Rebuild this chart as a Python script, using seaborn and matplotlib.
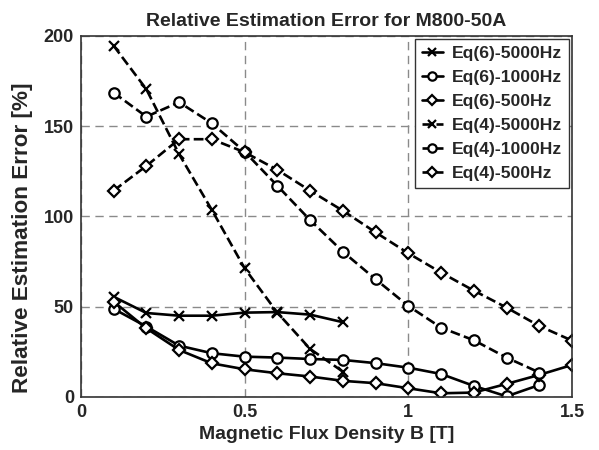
import numpy as np
import pandas as pd
import matplotlib
matplotlib.use('Agg')
import matplotlib.pyplot as plt
import seaborn as sns

# values
b_short = [0.1, 0.2, 0.3, 0.4, 0.5, 0.6, 0.7, 0.8]
b_1000 = [0.1, 0.2, 0.3, 0.4, 0.5, 0.6, 0.7, 0.8, 0.9, 1.0, 1.1, 1.2, 1.3, 1.4]
b_500 = [0.1, 0.2, 0.3, 0.4, 0.5, 0.6, 0.7, 0.8, 0.9, 1.0, 1.1, 1.2, 1.3, 1.4, 1.5]

eq6_5000 = [55.5, 46.5, 45, 45, 46.7, 47, 45.6, 41.4]
eq6_1000 = [48.8, 39, 28.4, 24.2, 22.3, 21.8, 21.0, 20.5, 18.7, 16.2, 12.7, 6.1, 0.3, 6.6]
eq6_500 = [52.8, 38, 26, 18.6, 15.3, 13.1, 11.3, 8.9, 7.6, 4.8, 2.0, 2.4, 7.2, 12.2, 17.7]
eq4_5000 = [194.6, 170.5, 134.5, 103.6, 71.3, 46.7, 26.6, 14]
eq4_1000 = [168.6, 155.3, 163.3, 151.6, 135.9, 117, 98, 80.5, 65.2, 50.4, 38.4, 31.4, 21.8, 13.5]
eq4_500 = [114.3, 128, 142.8, 142.8, 135.6, 125.8, 114.3, 103.2, 91.2, 79.6, 68.9, 58.9, 49.5, 39.3, 31.2]

series = [
    ('Eq(6)-5000Hz', b_short, eq6_5000, 'x', '-'),
    ('Eq(6)-1000Hz', b_1000, eq6_1000, 'o', '-'),
    ('Eq(6)-500Hz', b_500, eq6_500, 'D', '-'),
    ('Eq(4)-5000Hz', b_short, eq4_5000, 'x', '--'),
    ('Eq(4)-1000Hz', b_1000, eq4_1000, 'o', '--'),
    ('Eq(4)-500Hz', b_500, eq4_500, 'D', '--'),
]

sns.set_style('white')
plt.rcParams['font.family'] = ['Liberation Sans', 'DejaVu Sans']
plt.rcParams['font.weight'] = 'bold'

fig, ax = plt.subplots(figsize=(5.99, 4.5), dpi=100)
fig.subplots_adjust(left=0.135, right=0.955, top=0.92, bottom=0.118)

for name, xs, ys, mk, ls in series:
    df = pd.DataFrame({'B': xs, 'err': ys})
    ms = 7.5 if mk == 'o' else (6 if mk == 'D' else 7)
    sns.lineplot(data=df, x='B', y='err', ax=ax, color='black', linestyle=ls,
                 linewidth=1.9, marker=mk, markersize=ms, markerfacecolor='white',
                 markeredgecolor='black', markeredgewidth=1.6, label=name)

ax.set_xlim(0, 1.5)
ax.set_ylim(0, 200)
ax.set_xticks([0, 0.5, 1, 1.5])
ax.set_xticklabels(['0', '0.5', '1', '1.5'])
ax.set_yticks([0, 50, 100, 150, 200])
ax.grid(True, color='#8a8a8a', linestyle=(0, (6, 4)), linewidth=1.0)
ax.tick_params(labelsize=13, direction='in', length=4, pad=5)
for lab in ax.get_xticklabels() + ax.get_yticklabels():
    lab.set_fontweight('bold')
for sp in ax.spines.values():
    sp.set_color('#333333')
    sp.set_linewidth(1.2)

ax.set_title('Relative Estimation Error for M800-50A', fontsize=14, fontweight='bold', pad=7)
ax.set_xlabel('Magnetic Flux Density B [T]', fontsize=14, fontweight='bold')
ax.set_ylabel('Relative Estimation Error [%]', fontsize=16.2, fontweight='bold')
ax.yaxis.set_label_coords(-0.098, 0.44)

leg = ax.legend(loc='upper right', fontsize=12.6, handlelength=1.2, handletextpad=0.55,
                borderpad=0.4, labelspacing=0.5, fancybox=False, framealpha=1,
                edgecolor='#333333', borderaxespad=0.15, markerscale=0.8)
leg.get_frame().set_linewidth(1.0)
for t in leg.get_texts():
    t.set_fontweight('bold')

fig.savefig('out.png', dpi=100)
